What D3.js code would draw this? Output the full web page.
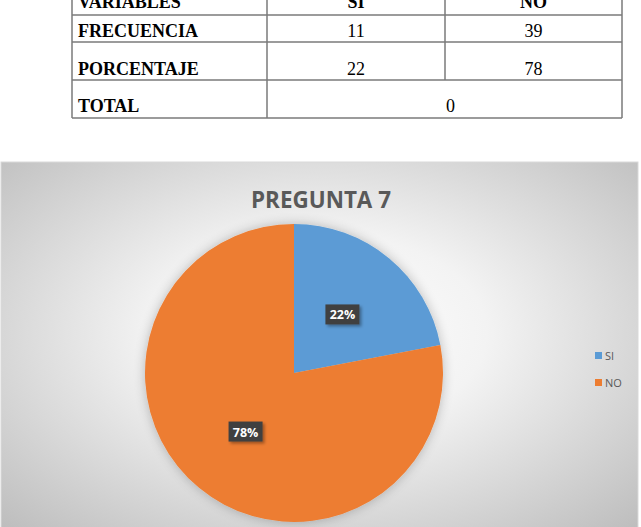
<!DOCTYPE html>
<html lang="es">
<head>
    <meta charset="UTF-8">
    <title>Pregunta 7</title>
    <script src="https://d3js.org/d3.v7.min.js"></script>
    <style>
        body { margin: 0; background: #fff; }
    </style>
</head>
<body>
    <div id="chart"></div>

    <script>
        // table + chart data
        const headers = ["VARIABLES", "SI", "NO"];
        const categories = ["SI", "NO"];
        const frecuencia = [11, 39];
        const porcentaje = [22, 78];
        const total = "0";
        const title = "PREGUNTA 7";
        const colors = ["#5B9BD5", "#ED7D31"];

        const W = 641, H = 527;
        const svg = d3.select("#chart").append("svg")
            .attr("width", W).attr("height", H);

        // ---- table ----
        const colX = [72, 267, 445, 622];
        const rowY = [-22, 15, 42, 80, 118];
        const lineColor = "#7a7a7a";
        const tbl = svg.append("g");

        rowY.slice(1).forEach(y => {
            tbl.append("line").attr("x1", colX[0]).attr("x2", colX[3])
                .attr("y1", y).attr("y2", y)
                .attr("stroke", lineColor).attr("stroke-width", 1.5);
        });
        // vertical lines (column 2 split ends before TOTAL row)
        tbl.append("line").attr("x1", colX[0]).attr("x2", colX[0]).attr("y1", 0).attr("y2", rowY[4]).attr("stroke", lineColor).attr("stroke-width", 1.5);
        tbl.append("line").attr("x1", colX[3]).attr("x2", colX[3]).attr("y1", 0).attr("y2", rowY[4]).attr("stroke", lineColor).attr("stroke-width", 1.5);
        tbl.append("line").attr("x1", colX[1]).attr("x2", colX[1]).attr("y1", 0).attr("y2", rowY[4]).attr("stroke", lineColor).attr("stroke-width", 1.5);
        tbl.append("line").attr("x1", colX[2]).attr("x2", colX[2]).attr("y1", 0).attr("y2", rowY[3]).attr("stroke", lineColor).attr("stroke-width", 1.5);

        const serif = "'Liberation Serif', 'Times New Roman', serif";
        const baselines = [8, 37, 75, 112];
        const colMid = i => (colX[i] + colX[i + 1]) / 2;

        // header row (cut by the top edge, as in the scan)
        headers.forEach((h, i) => {
            tbl.append("text")
                .attr("x", i === 0 ? 78 : colMid(i))
                .attr("y", baselines[0])
                .attr("text-anchor", i === 0 ? "start" : "middle")
                .attr("font-family", serif).attr("font-weight", "bold").attr("font-size", 18)
                .text(h);
        });

        const rows = [["FRECUENCIA", frecuencia], ["PORCENTAJE", porcentaje]];
        rows.forEach((r, j) => {
            tbl.append("text").attr("x", 78).attr("y", baselines[j + 1])
                .attr("font-family", serif).attr("font-weight", "bold").attr("font-size", 18)
                .text(r[0]);
            r[1].forEach((v, i) => {
                tbl.append("text").attr("x", colMid(i + 1)).attr("y", baselines[j + 1])
                    .attr("text-anchor", "middle")
                    .attr("font-family", serif).attr("font-size", 18)
                    .text(v);
            });
        });
        tbl.append("text").attr("x", 78).attr("y", baselines[3])
            .attr("font-family", serif).attr("font-weight", "bold").attr("font-size", 18)
            .text("TOTAL");
        tbl.append("text").attr("x", (colX[1] + colX[3]) / 2 + 6).attr("y", baselines[3])
            .attr("text-anchor", "middle")
            .attr("font-family", serif).attr("font-size", 18)
            .text(total);

        // ---- chart area ----
        const defs = svg.append("defs");
        const grad = defs.append("radialGradient").attr("id", "bg")
            .attr("cx", "50%").attr("cy", "45%").attr("r", "75%");
        grad.append("stop").attr("offset", "0%").attr("stop-color", "#ffffff");
        grad.append("stop").attr("offset", "35%").attr("stop-color", "#f3f3f3");
        grad.append("stop").attr("offset", "100%").attr("stop-color", "#b9b9b9");

        const shadow = defs.append("filter").attr("id", "glow")
            .attr("x", "-20%").attr("y", "-20%").attr("width", "140%").attr("height", "140%");
        shadow.append("feGaussianBlur").attr("in", "SourceAlpha").attr("stdDeviation", 6).attr("result", "b");
        shadow.append("feComponentTransfer").attr("in", "b").attr("result", "b2")
            .append("feFuncA").attr("type", "linear").attr("slope", 0.25);
        const m = shadow.append("feMerge");
        m.append("feMergeNode").attr("in", "b2");
        m.append("feMergeNode").attr("in", "SourceGraphic");

        const lblShadow = defs.append("filter").attr("id", "lblsh")
            .attr("x", "-30%").attr("y", "-30%").attr("width", "170%").attr("height", "170%");
        lblShadow.append("feDropShadow").attr("dx", 2).attr("dy", 2).attr("stdDeviation", 1.5)
            .attr("flood-color", "#000").attr("flood-opacity", 0.35);

        const area = { x: 1, y: 162, w: 637, h: 380 };
        svg.append("rect")
            .attr("x", area.x).attr("y", area.y)
            .attr("width", area.w).attr("height", area.h)
            .attr("fill", "url(#bg)")
            .attr("stroke", "#d9d9d9").attr("stroke-width", 1);

        svg.append("text")
            .attr("x", 321).attr("y", 208)
            .attr("text-anchor", "middle")
            .attr("font-family", "'Open Sans', sans-serif")
            .attr("font-weight", "bold").attr("font-size", 24)
            .attr("fill", "#595959")
            .attr("textLength", 140).attr("lengthAdjust", "spacingAndGlyphs")
            .text(title);

        // ---- pie ----
        const cx = 294, cy = 373, radius = 149;
        const pie = d3.pie().sort(null).value(d => d);
        const arc = d3.arc().innerRadius(0).outerRadius(radius);
        const arcs = pie(porcentaje);

        const gPie = svg.append("g").attr("transform", `translate(${cx}, ${cy})`);
        gPie.append("g").attr("filter", "url(#glow)")
            .selectAll("path")
            .data(arcs)
            .enter()
            .append("path")
            .attr("d", arc)
            .attr("fill", (d, i) => colors[i]);

        const labelArc = d3.arc().innerRadius(0).outerRadius(radius * 1.02);
        const lbl = gPie.selectAll("g.lbl")
            .data(arcs)
            .enter()
            .append("g")
            .attr("class", "lbl")
            .attr("transform", d => `translate(${labelArc.centroid(d)})`);
        lbl.append("rect")
            .attr("x", -17).attr("y", -10).attr("width", 34).attr("height", 20)
            .attr("fill", "#404040")
            .attr("filter", "url(#lblsh)");
        lbl.append("text")
            .attr("y", 5)
            .attr("text-anchor", "middle")
            .attr("font-family", "'Open Sans', sans-serif")
            .attr("font-weight", "bold").attr("font-size", 12.5)
            .attr("fill", "#fff")
            .text(d => d.data + "%");

        // ---- legend ----
        const legend = svg.append("g").attr("transform", "translate(595, 352)");
        categories.forEach((c, i) => {
            const g = legend.append("g").attr("transform", `translate(0, ${i * 27})`);
            g.append("rect").attr("width", 7).attr("height", 7).attr("fill", colors[i]);
            g.append("text").attr("x", 10).attr("y", 7.5)
                .attr("font-family", "'Open Sans', sans-serif").attr("font-size", 11)
                .attr("fill", "#595959")
                .text(c);
        });
    </script>
</body>
</html>
